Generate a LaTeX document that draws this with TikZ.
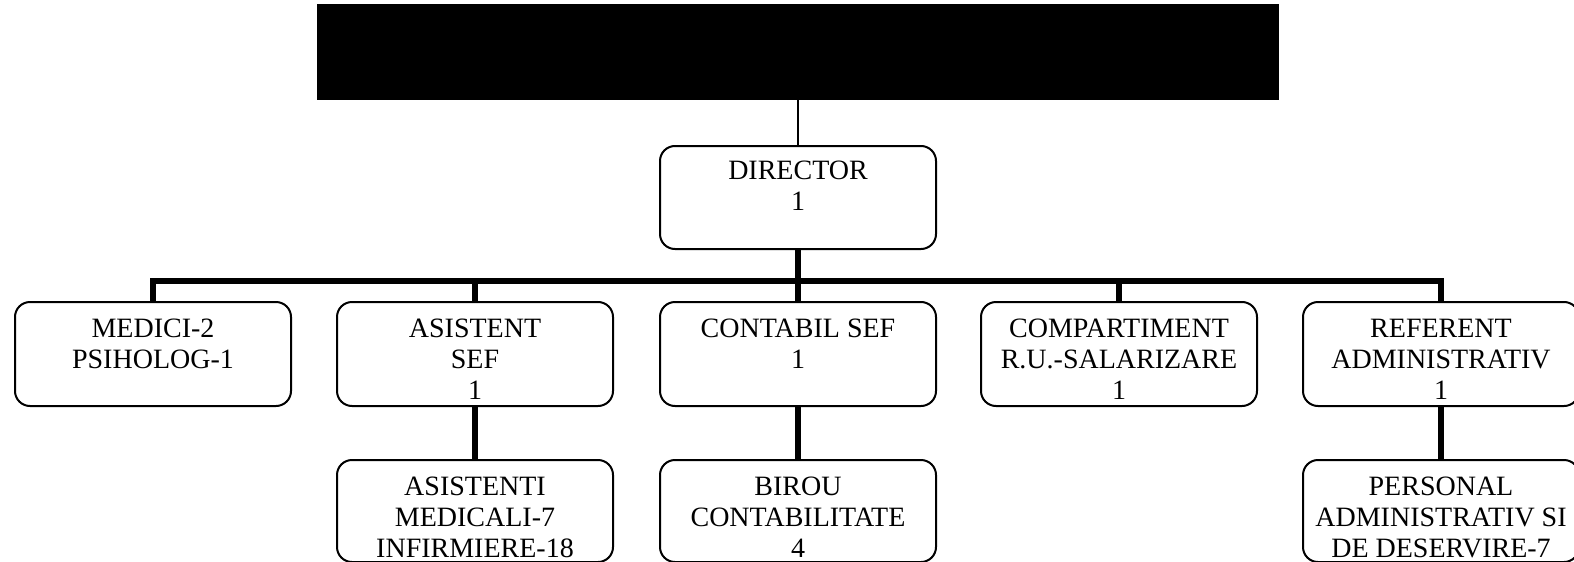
\documentclass[tikz,border=0pt]{standalone}
\usepackage{fontspec}
\setmainfont{Liberation Serif}
\begin{document}
\begin{tikzpicture}[x=1pt,y=-1pt,
  box/.style={draw, line width=2pt, rounded corners=15pt, minimum width=276pt, minimum height=104pt, anchor=north west, inner sep=0pt},
  lowbox/.style={box, minimum height=102pt},
  txt/.style={anchor=north, inner sep=0pt, align=center, font=\fontsize{28}{31}\selectfont},
  heavylink/.style={line width=5.5pt},
  thinlink/.style={line width=1.5pt}]
\useasboundingbox (0,0) rectangle (1574,562);
% header
\node[fill=black, minimum width=962pt, minimum height=96pt, anchor=north west, inner sep=0pt] (head) at (317,4) {};
% director
\node[box, minimum height=103pt] (dir) at (659,145) {};
\node[txt] (tdir) at ([yshift=-16pt]dir.north) {DIRECTOR\\1};
% row 2
\node[box] (med) at (14,301) {};
\node[box] (asf) at (336,301) {};
\node[box] (csf) at (659,301) {};
\node[box] (cru) at (980,301) {};
\node[box] (ref) at (1302,301) {};
\node[txt] (tmed) at ([yshift=-18pt]med.north) {MEDICI-2\\PSIHOLOG-1};
\node[txt] (tasf) at ([yshift=-18pt]asf.north) {ASISTENT\\SEF\\1};
\node[txt] (tcsf) at ([yshift=-18pt]csf.north) {CONTABIL SEF\\1};
\node[txt] (tcru) at ([yshift=-18pt]cru.north) {COMPARTIMENT\\R.U.-SALARIZARE\\1};
\node[txt] (tref) at ([yshift=-18pt]ref.north) {REFERENT\\ADMINISTRATIV\\1};
% row 3
\node[lowbox] (asm) at (336,459) {};
\node[lowbox] (bir) at (659,459) {};
\node[lowbox] (per) at (1302,459) {};
\node[txt] (tasm) at ([yshift=-18pt]asm.north) {ASISTENTI\\MEDICALI-7\\INFIRMIERE-18};
\node[txt] (tbir) at ([yshift=-18pt]bir.north) {BIROU\\CONTABILITATE\\4};
\node[txt] (tper) at ([yshift=-18pt]per.north) {PERSONAL\\ADMINISTRATIV SI\\DE DESERVIRE-7};
% connectors
\coordinate (bar) at (796,281);
\draw[thinlink] (head.south -| dir.north) -- (dir.north);
\draw[heavylink] (dir.south) -- (dir.south |- bar);
\draw[heavylink] (med.north) -- (med.north |- bar) -- (ref.north |- bar) -- (ref.north);
\draw[heavylink] (asf.north) -- (asf.north |- bar);
\draw[heavylink] (csf.north) -- (csf.north |- bar);
\draw[heavylink] (cru.north) -- (cru.north |- bar);
\draw[heavylink] (asf.south) -- (asm.north);
\draw[heavylink] (csf.south) -- (bir.north);
\draw[heavylink] (ref.south) -- (per.north);
\end{tikzpicture}
\end{document}
